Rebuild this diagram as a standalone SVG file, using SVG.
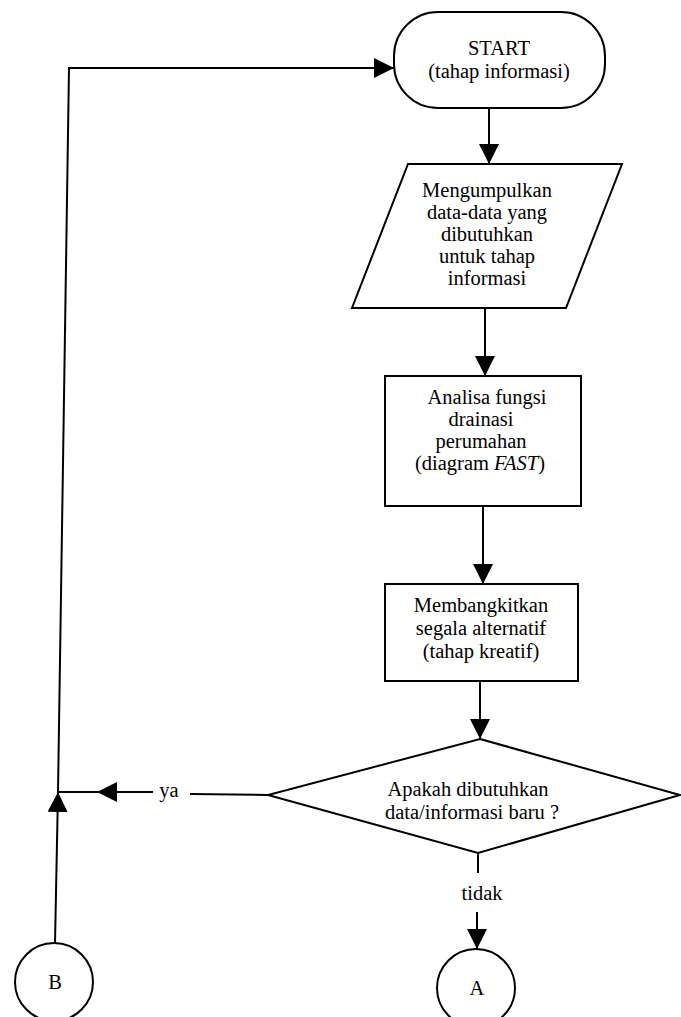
<svg xmlns="http://www.w3.org/2000/svg" width="681" height="1017" viewBox="0 0 681 1017">
<style>
.shape{fill:#fff;stroke:#000;stroke-width:2}
.line{fill:none;stroke:#000;stroke-width:2}
text{font-family:"Liberation Serif","Times New Roman",serif;font-size:20.5px;fill:#000;text-anchor:middle}
</style>
<defs>
<marker id="arr" markerUnits="userSpaceOnUse" markerWidth="20" markerHeight="20" refX="20" refY="10" orient="auto">
<path d="M0,0 L20,10 L0,20 z" fill="#000"/>
</marker>
</defs>
<rect width="681" height="1017" fill="#fff"/>
<g id="connectors">
<path class="line" d="M489,108 L489,164" marker-end="url(#arr)"/>
<path class="line" d="M485,308 L485,376" marker-end="url(#arr)"/>
<path class="line" d="M483,506 L483,584" marker-end="url(#arr)"/>
<path class="line" d="M480,681 L480,739" marker-end="url(#arr)"/>
<path class="line" d="M478,853 L478,873"/>
<text x="482" y="900">tidak</text>
<path class="line" d="M477,912 L477,949" marker-end="url(#arr)"/>
<path class="line" d="M268,795 L190,794"/>
<text x="169" y="797">ya</text>
<path class="line" d="M153,792 L97,792" marker-end="url(#arr)"/>
<path class="line" d="M97,792 L58,792"/>
<path class="line" d="M55,943 L58,792" marker-end="url(#arr)"/>
<path class="line" d="M58,792 L69,68 L394,68" marker-end="url(#arr)"/>
</g>
<g id="start">
<rect class="shape" x="394" y="12" width="211" height="96" rx="44" ry="44"/>
<text x="499" y="55">START</text>
<text x="499" y="78">(tahap informasi)</text>
</g>
<g id="input-data">
<polygon class="shape" points="408,164 622,164 566,308 352,308"/>
<text x="487" y="197">Mengumpulkan</text>
<text x="487" y="219">data-data yang</text>
<text x="487" y="241">dibutuhkan</text>
<text x="487" y="263">untuk tahap</text>
<text x="487" y="285">informasi</text>
</g>
<g id="analisa">
<rect class="shape" x="385" y="376" width="196" height="130"/>
<text x="487" y="404">Analisa fungsi</text>
<text x="481" y="426">drainasi</text>
<text x="481" y="448">perumahan</text>
<text x="480" y="470">(diagram <tspan font-style="italic">FAST</tspan>)</text>
</g>
<g id="alternatif">
<rect class="shape" x="385" y="584" width="193" height="97"/>
<text x="481" y="612">Membangkitkan</text>
<text x="481" y="635">segala alternatif</text>
<text x="481" y="658">(tahap kreatif)</text>
</g>
<g id="keputusan">
<polygon class="shape" points="480,739 680,795 478,853 268,795"/>
<text x="468" y="796">Apakah dibutuhkan</text>
<text x="472" y="819">data/informasi baru ?</text>
</g>
<g id="konektor-a">
<circle class="shape" cx="476" cy="988" r="39"/>
<text x="477" y="995">A</text>
</g>
<g id="konektor-b">
<circle class="shape" cx="54" cy="982" r="39"/>
<text x="55" y="989">B</text>
</g>
</svg>
